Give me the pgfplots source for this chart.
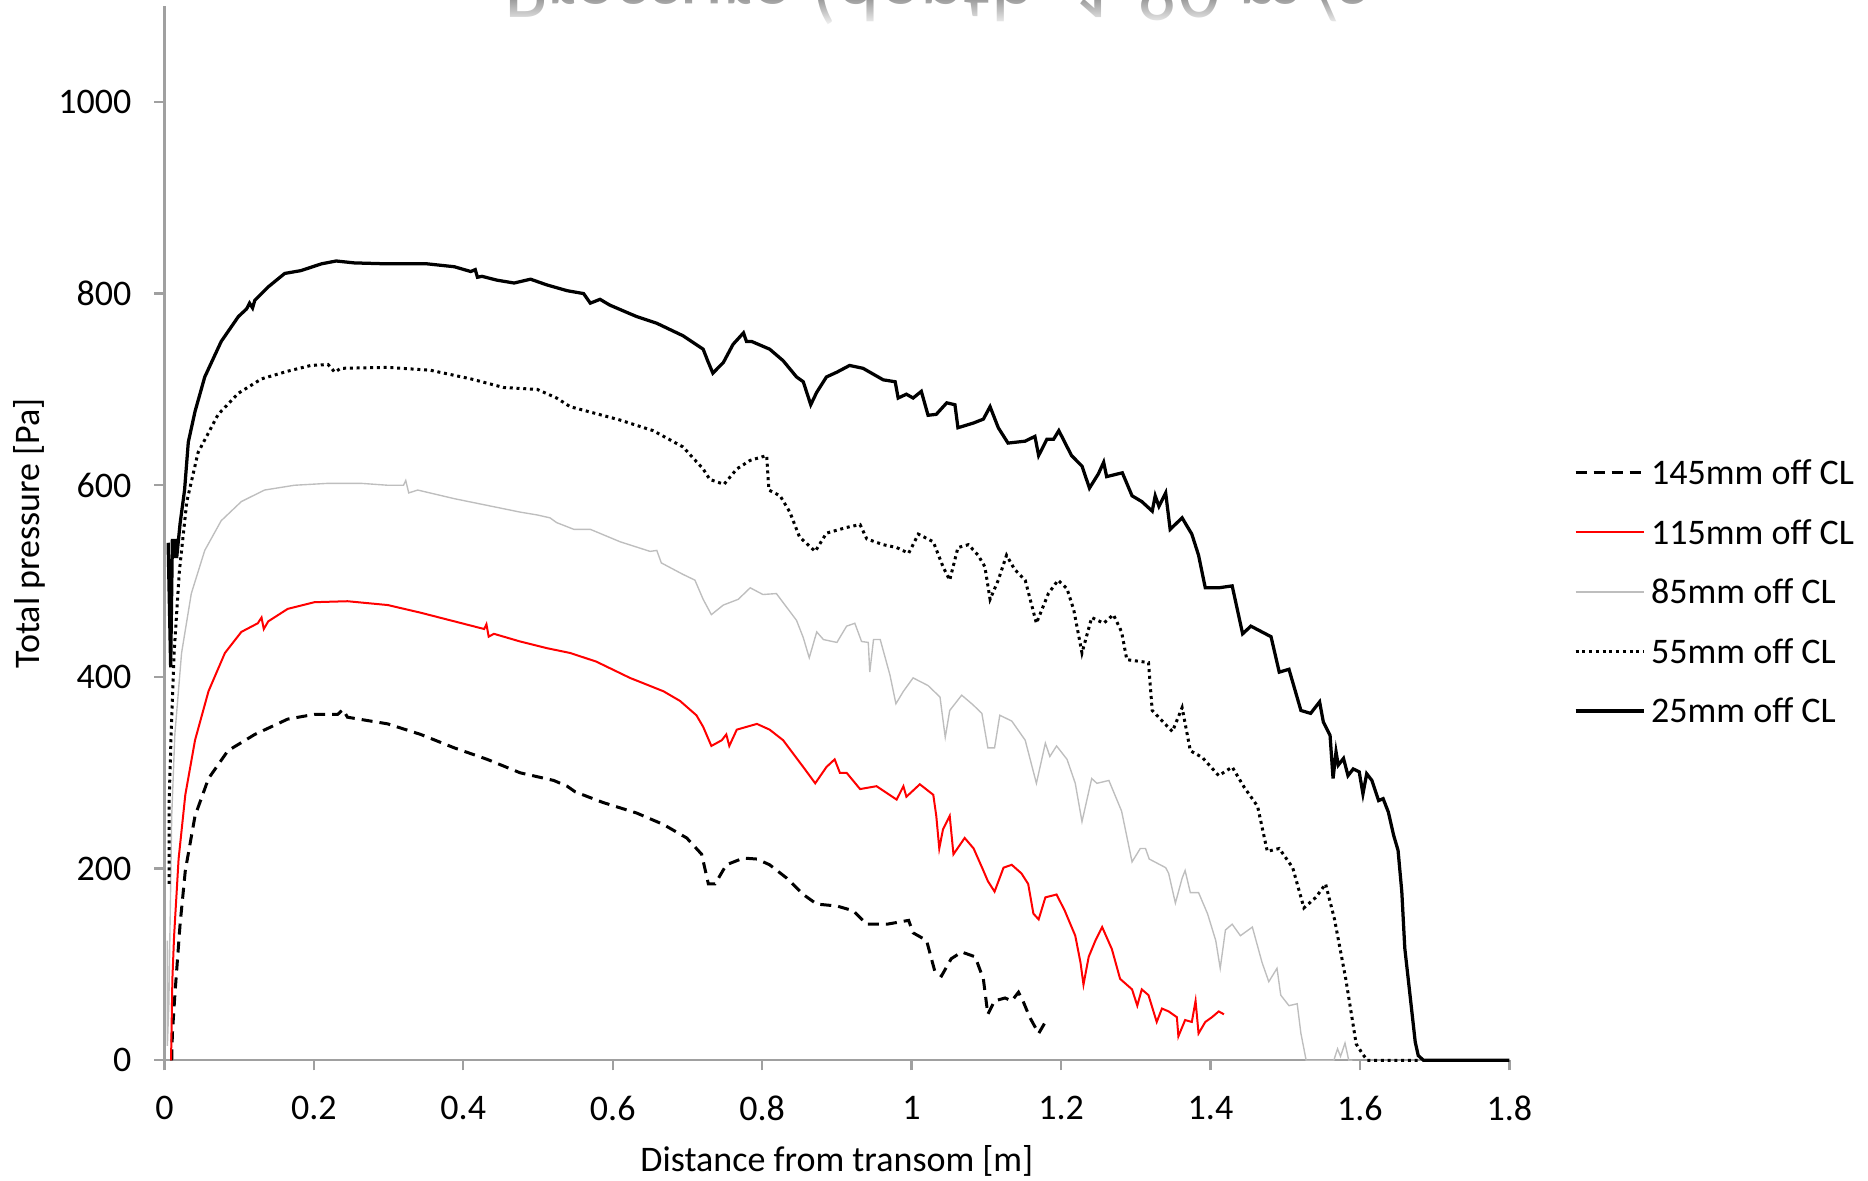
\documentclass[border=0pt]{standalone}
\usepackage{fontspec}
\setmainfont{Carlito}
\usepackage{pgfplots}
\pgfplotsset{compat=1.18}
\usetikzlibrary{fadings}
\tikzfading[name=fadeup, top color=transparent!100, bottom color=transparent!0]
\definecolor{axgray}{RGB}{160,160,160}
\definecolor{lgray}{RGB}{190,190,190}
\definecolor{myred}{RGB}{255,0,0}
\begin{document}
\begin{tikzpicture}
\begin{axis}[
  scale only axis, width=538pt, height=421.7pt,
  xmin=0, xmax=1.8, ymin=0, ymax=1100,
  axis x line*=bottom, axis y line*=left,
  axis line style={draw=axgray, line width=0.9pt},
  xtick={0,0.2,0.4,0.6,0.8,1,1.2,1.4,1.6,1.8},
  ytick={0,200,400,600,800,1000},
  tick align=outside, major tick length=4pt,
  tick style={draw=axgray, line width=0.9pt},
  /pgf/number format/assume math mode=true,
  /pgf/number format/1000 sep={},
  ticklabel style={font=\fontsize{14.4}{17}\selectfont},
  xticklabel style={yshift=-6.7pt},
  yticklabel style={xshift=-5.7pt},
  xlabel={Distance from transom [m]},
  ylabel={Total pressure [Pa]},
  label style={font=\fontsize{14.4}{17}\selectfont},
  xlabel style={at={(axis description cs:0.5,-0.095)}, anchor=center},
  ylabel style={at={(axis description cs:-0.1,0.5)}, anchor=center},
  clip=false,
  legend image code/.code={\draw[#1] (0pt,0pt) -- (27.2pt,0pt);},
  legend style={at={(axis description cs:1.048,0.5684)}, anchor=north west,
    draw=none, fill=none, inner sep=0pt, outer sep=0pt,
    font=\fontsize{14.4}{17}\selectfont, row sep=14.3pt, column sep=2.4pt,
    nodes={inner sep=0pt, text height=9.5pt, text depth=0pt, anchor=west}},
  legend cell align=left,
]
% 145mm
\addplot[black, line width=1.2pt, dash pattern=on 4.4pt off 2.8pt] coordinates {
(0.0098,0) (0.0107,28) (0.014,68) (0.021,142) (0.028,198) (0.041,255) (0.059,294) (0.085,323)
(0.121,340) (0.165,356) (0.201,361) (0.232,361) (0.239,366) (0.245,358) (0.299,351) (0.343,340)
(0.388,326) (0.432,314) (0.476,300) (0.521,292) (0.539,286) (0.55,280) (0.587,269) (0.632,258)
(0.668,246) (0.699,232) (0.719,215) (0.728,184) (0.737,184) (0.752,204) (0.775,211) (0.793,210)
(0.81,204) (0.833,190) (0.855,173) (0.873,163) (0.9,161) (0.922,156) (0.94,142) (0.967,142)
(0.996,146) (1.002,133) (1.02,125) (1.031,93) (1.04,88) (1.053,106) (1.067,113) (1.085,108)
(1.096,85) (1.102,48) (1.111,62) (1.125,65) (1.134,62) (1.143,71) (1.149,62) (1.158,45)
(1.17,28) (1.179,40)
};
\addlegendentry{145mm off CL}
% 115mm
\addplot[myred, line width=0.8pt] coordinates {
(0.0089,0) (0.0107,85) (0.013,130) (0.019,210) (0.028,277) (0.041,334) (0.059,385) (0.081,425)
(0.103,447) (0.125,456) (0.13,462) (0.133,450) (0.139,458) (0.165,471) (0.201,478) (0.245,479)
(0.299,475) (0.343,467) (0.388,458) (0.428,450) (0.431,455) (0.434,442) (0.441,445) (0.476,437)
(0.512,430) (0.543,425) (0.578,416) (0.623,399) (0.668,385) (0.69,375) (0.712,360) (0.721,348)
(0.732,328) (0.746,334) (0.752,340) (0.756,328) (0.766,345) (0.793,351) (0.81,345) (0.828,334)
(0.855,306) (0.871,289) (0.886,306) (0.897,314) (0.904,300) (0.913,300) (0.931,283) (0.953,286)
(0.98,272) (0.989,286) (0.993,275) (1.011,288) (1.029,277) (1.033,255) (1.037,221) (1.042,241)
(1.051,255) (1.056,215) (1.071,232) (1.083,221) (1.096,198) (1.102,187) (1.111,176) (1.123,201)
(1.134,204) (1.147,195) (1.156,184) (1.163,153) (1.17,147) (1.179,170) (1.194,173) (1.205,156)
(1.219,130) (1.226,102) (1.23,79) (1.237,108) (1.246,125) (1.255,139) (1.268,116) (1.279,85)
(1.295,74) (1.302,57) (1.308,74) (1.317,68) (1.328,40) (1.335,54) (1.344,51) (1.355,45)
(1.357,25) (1.366,42) (1.375,40) (1.38,62) (1.384,28) (1.393,40) (1.402,45) (1.411,51) (1.418,48)
};
\addlegendentry{115mm off CL}
% 85mm
\addplot[lgray, line width=0.55pt] coordinates {
(0.004,125) (0.004,15) (0.006,60) (0.0098,255) (0.014,340) (0.023,425) (0.036,487) (0.054,532)
(0.076,563) (0.103,583) (0.134,595) (0.174,600) (0.219,602) (0.263,602) (0.299,600) (0.32,600)
(0.323,605) (0.327,592) (0.339,595) (0.388,586) (0.432,579) (0.476,572) (0.499,569) (0.516,566)
(0.525,561) (0.548,554) (0.57,554) (0.61,541) (0.65,531) (0.659,532) (0.665,519) (0.694,507)
(0.71,501) (0.721,481) (0.732,465) (0.748,475) (0.768,481) (0.784,493) (0.801,486) (0.819,487)
(0.846,459) (0.855,441) (0.863,420) (0.873,447) (0.882,439) (0.9,436) (0.913,453) (0.924,456)
(0.933,437) (0.942,436) (0.944,405) (0.949,439) (0.958,439) (0.971,402) (0.979,372) (0.989,385)
(1.002,399) (1.022,391) (1.038,379) (1.045,337) (1.051,365) (1.067,381) (1.082,371) (1.094,362)
(1.102,326) (1.111,326) (1.118,360) (1.134,354) (1.152,334) (1.167,289) (1.179,331) (1.185,317)
(1.194,328) (1.208,314) (1.219,289) (1.228,249) (1.241,294) (1.248,289) (1.264,292) (1.281,260)
(1.295,207) (1.306,221) (1.313,221) (1.318,210) (1.34,201) (1.344,195) (1.353,164) (1.362,190)
(1.366,198) (1.373,175) (1.384,175) (1.396,153) (1.407,125) (1.413,96) (1.42,136) (1.429,142)
(1.44,130) (1.456,139) (1.469,102) (1.478,82) (1.489,96) (1.494,68) (1.505,57) (1.516,59)
(1.521,28) (1.528,0) (1.565,0) (1.57,12) (1.574,4) (1.58,18) (1.585,0) (1.59,0)
};
\addlegendentry{85mm off CL}
% 55mm
\addplot[black, line width=1.2pt, dash pattern=on 1.2pt off 1.5pt] coordinates {
(0.0062,184) (0.0062,266) (0.009,340) (0.013,425) (0.02,510) (0.03,583) (0.045,634) (0.072,674)
(0.099,696) (0.13,711) (0.165,719) (0.196,725) (0.219,726) (0.228,718) (0.236,722) (0.299,723)
(0.356,720) (0.41,711) (0.454,702) (0.499,700) (0.525,691) (0.543,682) (0.61,668) (0.654,657)
(0.694,640) (0.721,617) (0.73,606) (0.749,601) (0.766,617) (0.784,626) (0.806,631) (0.809,595)
(0.824,589) (0.837,572) (0.85,546) (0.871,531) (0.886,550) (0.913,556) (0.931,559) (0.94,544)
(0.962,538) (0.98,535) (0.996,529) (1.009,549) (1.029,541) (1.042,515) (1.051,501) (1.062,535)
(1.076,538) (1.089,527) (1.098,515) (1.105,481) (1.116,501) (1.127,527) (1.138,512) (1.152,501)
(1.167,456) (1.183,487) (1.196,501) (1.208,492) (1.217,470) (1.228,425) (1.241,462) (1.257,456)
(1.27,465) (1.281,447) (1.288,418) (1.317,415) (1.322,365) (1.349,343) (1.362,368) (1.373,323)
(1.389,316) (1.411,297) (1.429,306) (1.445,285) (1.463,265) (1.476,218) (1.492,221) (1.51,201)
(1.525,159) (1.541,170) (1.554,184) (1.566,147) (1.581,85) (1.595,17) (1.604,6) (1.61,0) (1.68,0)
};
\addlegendentry{55mm off CL}
% 25mm
\addplot[black, line width=1.3pt] coordinates {
(0.005,540) (0.0084,410) (0.0107,544) (0.0133,524) (0.015,544) (0.0164,524) (0.021,560) (0.027,595)
(0.032,645) (0.041,677) (0.054,713) (0.076,750) (0.099,776) (0.11,784) (0.114,790) (0.118,785)
(0.121,793) (0.139,807) (0.161,821) (0.183,824) (0.21,831) (0.23,834) (0.254,832) (0.299,831)
(0.352,831) (0.388,828) (0.41,823) (0.416,825) (0.419,817) (0.425,818) (0.445,814) (0.468,811)
(0.49,815) (0.512,809) (0.539,803) (0.561,800) (0.570,790) (0.583,794) (0.596,788) (0.632,776)
(0.659,769) (0.694,756) (0.721,742) (0.727,730) (0.734,717) (0.748,728) (0.761,747) (0.775,759)
(0.779,750) (0.786,750) (0.810,742) (0.828,730) (0.846,713) (0.855,708) (0.865,684) (0.873,697)
(0.886,713) (0.900,718) (0.917,725) (0.935,722) (0.962,710) (0.978,708) (0.982,691) (0.993,695)
(1.002,691) (1.013,698) (1.022,673) (1.033,674) (1.047,686) (1.058,684) (1.062,660) (1.083,665)
(1.096,669) (1.105,682) (1.116,660) (1.129,644) (1.152,646) (1.165,651) (1.170,631) (1.181,648)
(1.19,648) (1.197,657) (1.214,631) (1.228,620) (1.238,597) (1.250,612) (1.257,624) (1.261,609)
(1.282,613) (1.295,589) (1.308,583) (1.322,573) (1.326,589) (1.331,578) (1.340,592) (1.346,554)
(1.362,566) (1.375,549) (1.384,527) (1.393,493) (1.411,493) (1.429,495) (1.443,445) (1.454,453)
(1.481,442) (1.492,405) (1.505,408) (1.521,365) (1.534,362) (1.546,374) (1.551,353) (1.56,339)
(1.564,294) (1.568,322) (1.571,308) (1.578,315) (1.584,297) (1.591,304) (1.599,301) (1.604,278)
(1.609,299) (1.616,292) (1.625,271) (1.631,273) (1.638,259) (1.645,235) (1.651,219) (1.656,176)
(1.66,117) (1.667,68) (1.674,19) (1.678,5) (1.685,0) (1.8,0)
};
\addlegendentry{25mm off CL}
\end{axis}
\node[yscale=-1, anchor=base, text=black!38, font=\fontsize{33}{38}\selectfont, inner sep=0pt] at (308.6pt,438.2pt) {Pressure (depth, 1.80 m/s};
\fill[white, path fading=fadeup] (120pt,413pt) rectangle (500pt,424.2pt);
\pgfresetboundingbox
\path[use as bounding box] (-65.76pt,-47.88pt) rectangle (681.44pt,424.12pt);
\end{tikzpicture}
\end{document}
